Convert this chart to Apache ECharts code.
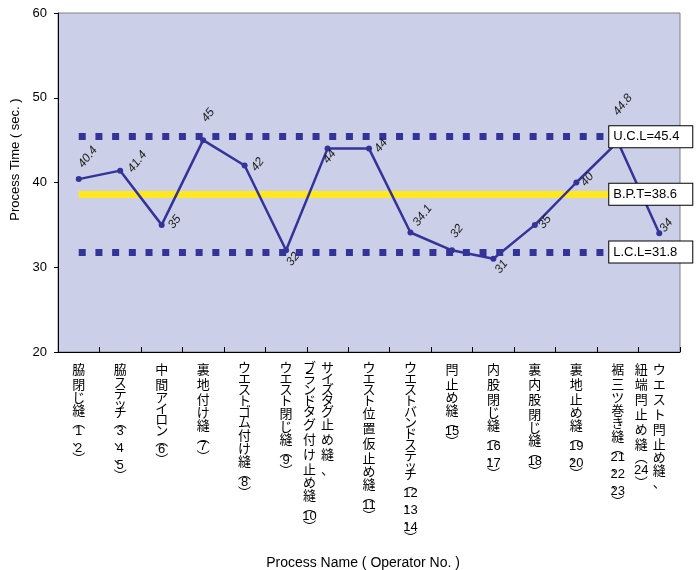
<!DOCTYPE html>
<html><head><meta charset="utf-8">
<script src="https://cdn.jsdelivr.net/npm/echarts@6/dist/echarts.min.js"></script>
<style>html,body{margin:0;padding:0;background:#fff}#c{width:700px;height:570px}</style>
</head><body><div id="c"></div>
<script>
// ---- data ----
const categories = [
  '脇閉じ縫（1、2）',
  '脇ステッチ（3、4、5）',
  '中間アイロン（6）',
  '裏地付け縫（7）',
  'ウエストゴム付け縫（8）',
  'ウエスト閉じ縫（9）',
  'サイズタグ止め縫、\nブランドタグ付け止め縫（10）',
  'ウエスト位置仮止め縫（11）',
  'ウエストバンドステッチ（12、13、14）',
  '閂止め縫（15）',
  '内股閉じ縫（16、17）',
  '裏内股閉じ縫（18）',
  '裏地止め縫（19、20）',
  '裾三ツ巻き縫（21、22、23）',
  'ウエスト閂止め縫、\n紐端閂止め縫（24）'
];
const processTime = [40.4, 41.4, 35, 45, 42, 32, 44, 44, 34.1, 32, 31, 35, 40, 44.8, 34];
const limitValues = { ucl: 45.4, bpt: 38.6, lcl: 31.8 };
const yAxisRange = { min: 20, max: 60, interval: 10 };

// ---- label placement (style only) ----
const labelOffsets = [
  [9, -22], [17, -9], [13, -3], [5, -25], [13, -1], [7, 9], [2, 8], [12, -3],
  [12, -17], [5, -19], [8, 8], [10, -3], [11, -3], [5, -37], [7, -8]
];
const SYM = 6;

const NAVY = '#333399';
const CJK = '"Noto Sans CJK JP", sans-serif';
const LAT = '"Liberation Sans", Arial, sans-serif';

function tokens(s) {
  const out = []; let i = 0;
  while (i < s.length) {
    const ch = s[i];
    if (/[0-9]/.test(ch)) {
      let j = i; while (j < s.length && /[0-9]/.test(s[j])) j++;
      out.push(['d', s.slice(i, j)]); i = j; continue;
    }
    if (ch === '（') out.push(['p', '︵']);
    else if (ch === '）') out.push(['p', '︶']);
    else if (ch === '、') out.push(['c', '、']);
    else if (/[ッャュョァィゥェォっゃゅょ]/.test(ch)) out.push(['s', ch]);
    else if (/[\u3040-\u30ff]/.test(ch)) out.push(['a', ch]);
    else out.push(['k', ch]);
    i++;
  }
  return out;
}
function fmt(v) {
  const cols = String(v).split('\n').map(tokens);
  if (cols.length === 1) return cols[0].map(t => '{' + t[0] + '|' + t[1] + '}').join('\n');
  const R = cols[0], L = cols[1];
  const n = Math.max(R.length, L.length);
  const rows = [];
  for (let i = 0; i < n; i++) {
    const l = L[i] ? '{' + L[i][0] + '|' + L[i][1] + '}' : '{e|　}';
    const r = R[i] ? '{' + R[i][0] + '|' + R[i][1] + '}' : '{e|　}';
    rows.push(l + r + '{e|　}');
  }
  return rows.join('\n');
}
const W = 18;
function rs(lh, fam, col) {
  return { fontFamily: fam || CJK, fontSize: 13, lineHeight: lh, width: W, align: 'center', color: col || '#000' };
}
const rich = {
  k: rs(15),
  a: rs(11),
  s: rs(8),
  d: rs(11, LAT),
  p: rs(8),
  c: rs(6),
  e: rs(1, CJK, 'rgba(0,0,0,0)')
};

const seriesData = processTime.map((v, i) => ({
  value: v,
  label: { position: [SYM / 2 + labelOffsets[i][0], SYM / 2 + labelOffsets[i][1]] }
}));

function ml(v, style) {
  return [{ coord: [0, v], lineStyle: style }, { coord: [categories.length - 1, v] }];
}
const dashStyle = { color: NAVY, width: 7, type: [7, 9.7] };
const bptStyle = { color: '#FFE81F', width: 7, type: 'solid' };

const chart = echarts.init(document.getElementById('c'), null, { renderer: 'canvas' });
chart.setOption({
  animation: false,
  backgroundColor: '#fff',
  grid: { left: 58, right: 20, top: 13, bottom: 218, outerBoundsMode: 'none', containLabel: false,
          show: true, backgroundColor: '#CBD0E8', borderColor: '#808080', borderWidth: 1 },
  xAxis: {
    type: 'category', data: categories, boundaryGap: true,
    name: 'Process Name ( Operator No. )', nameLocation: 'middle', nameGap: 204, nameMoveOverlap: false,
    nameTextStyle: { fontFamily: LAT, fontSize: 14, color: '#000', padding: [0, 12, 0, 0] },
    axisLine: { lineStyle: { color: '#000', width: 1 } },
    axisTick: { show: true, inside: true, length: 5, alignWithLabel: false, lineStyle: { color: '#000' } },
    axisLabel: { interval: 0, margin: 10, formatter: fmt, rich: rich, verticalAlign: 'top' },
    splitLine: { show: false }
  },
  yAxis: {
    type: 'value', min: yAxisRange.min, max: yAxisRange.max, interval: yAxisRange.interval,
    name: 'Process Time ( sec. )', nameLocation: 'middle', nameGap: 36, nameRotate: 90, nameMoveOverlap: false,
    nameTextStyle: { fontFamily: LAT, fontSize: 13, color: '#000', padding: [0, 0, 0, 46] },
    axisLine: { show: true, lineStyle: { color: '#000', width: 1 } },
    axisTick: { show: true, inside: false, length: 4, lineStyle: { color: '#000' } },
    axisLabel: { fontFamily: LAT, fontSize: 13, color: '#000', margin: 11 },
    splitLine: { show: false }
  },
  series: [
    {
      type: 'line', data: seriesData, z: 3,
      symbol: 'circle', symbolSize: SYM, showSymbol: true,
      itemStyle: { color: NAVY },
      lineStyle: { color: NAVY, width: 2.5 },
      label: {
        show: true, rotate: 52, align: 'center', verticalAlign: 'middle',
        fontFamily: LAT, fontSize: 12, fontStyle: 'italic', color: '#222'
      },
      emphasis: { disabled: true },
      markLine: {
        z: 1, silent: true, symbol: ['none', 'none'], animation: false,
        label: { show: false },
        data: [ml(limitValues.ucl, dashStyle), ml(limitValues.bpt, bptStyle), ml(limitValues.lcl, dashStyle)]
      }
    },
    {
      type: 'line', data: processTime, z: 10, silent: true,
      symbol: 'none', showSymbol: false,
      lineStyle: { opacity: 0, width: 0 },
      label: { show: false },
      emphasis: { disabled: true },
      markLine: {
        z: 10, silent: true, symbol: ['none', 'none'], animation: false,
        lineStyle: { color: 'rgba(0,0,0,0)', width: 1, type: 'solid' },
        label: {
          show: true, position: 'end', distance: -50,
          backgroundColor: '#fff', borderColor: '#000', borderWidth: 1,
          padding: [3, 4, 3, 4], width: 75, lineHeight: 15,
          fontFamily: LAT, fontSize: 13, color: '#000'
        },
        data: [
          [{ coord: [0, limitValues.ucl], label: { formatter: 'U.C.L=' + limitValues.ucl } }, { coord: [categories.length - 1, limitValues.ucl] }],
          [{ coord: [0, limitValues.bpt], label: { formatter: 'B.P.T=' + limitValues.bpt } }, { coord: [categories.length - 1, limitValues.bpt] }],
          [{ coord: [0, limitValues.lcl], label: { formatter: 'L.C.L=' + limitValues.lcl } }, { coord: [categories.length - 1, limitValues.lcl] }]
        ]
      }
    }
  ]
});
</script>
</body></html>
